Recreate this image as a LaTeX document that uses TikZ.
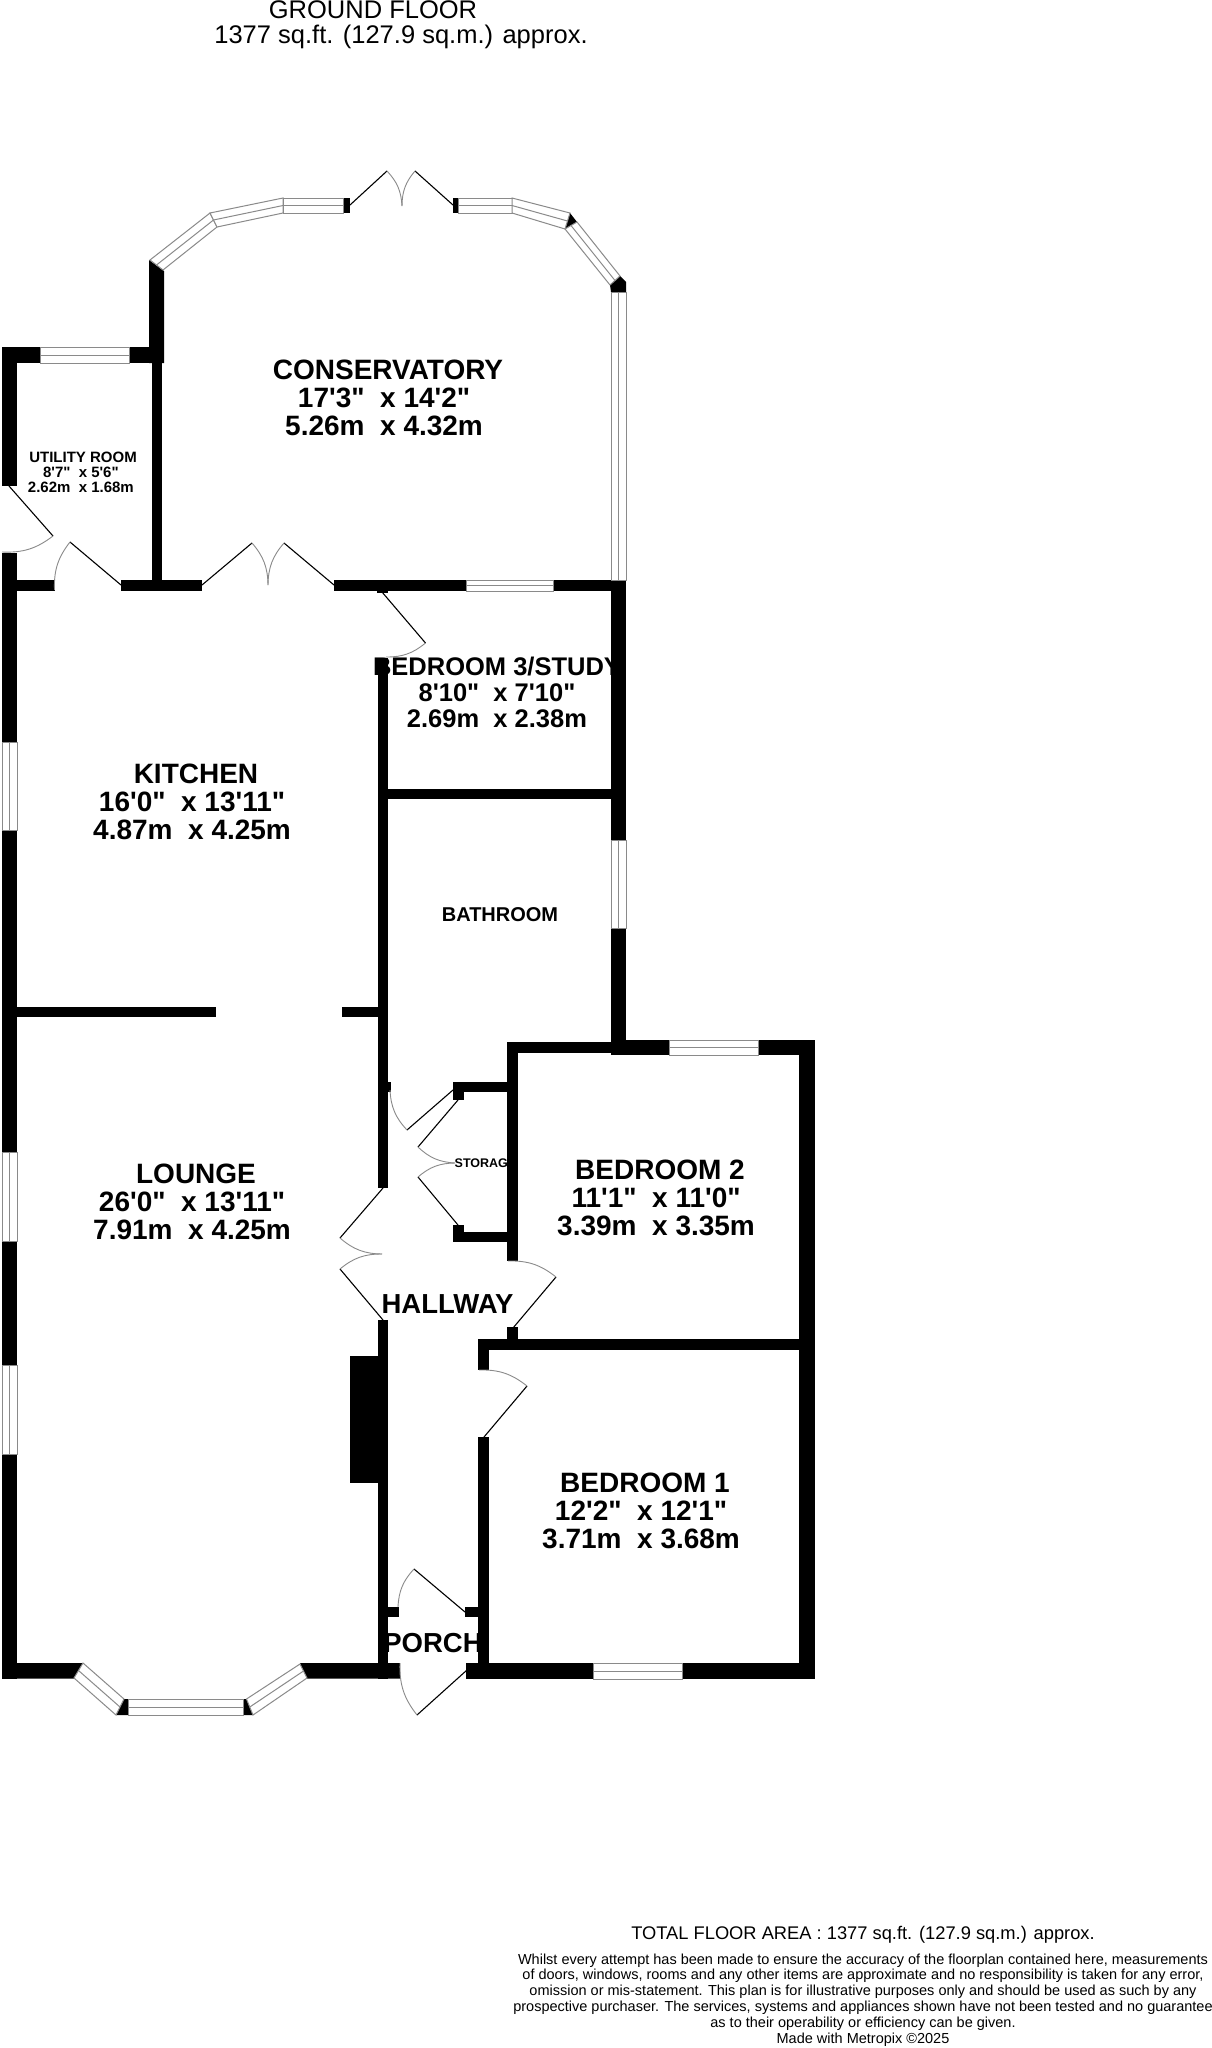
\documentclass[tikz,border=0pt]{standalone}
\usepackage{fontspec}
\usetikzlibrary{calc}
\newfontfamily\planfont{Liberation Sans}
\definecolor{wingray}{HTML}{8A8A8A}
\newcommand{\Tr}{\rule{.28em}{0pt}}
\newcommand{\wallbox}[4]{\fill[wall] (#1,#3) rectangle (#2,#4);}
\newcommand{\winquad}[4]{%
  \draw[winbox] #1 -- #2 -- #3 -- #4 -- cycle;
  \draw[winbox] ($#1!.5!#4$) -- ($#2!.5!#3$);}
\newcommand{\doorleaf}[4]{%
  \draw[leaf] (#1) -- (#2);
  \draw[swing] (#2) to[#4] (#3);}
\tikzset{
  wall/.style={fill=black},
  winbox/.style={draw=wingray,fill=white,line width=1pt},
  leaf/.style={draw=black,line width=1.1pt},
  swing/.style={draw=wingray,line width=0.9pt},
  roomlg/.style={inner sep=0pt,align=center,font=\fontsize{28}{28}\selectfont\planfont\bfseries},
  roommd/.style={inner sep=0pt,align=center,font=\fontsize{25.5}{26}\selectfont\planfont\bfseries},
  roomname/.style={inner sep=0pt,font=\fontsize{27.5}{27}\selectfont\planfont\bfseries},
  roomsm/.style={inner sep=0pt,align=center,font=\fontsize{15}{15}\selectfont\planfont\bfseries},
  headtext/.style={inner sep=0pt,align=center,font=\fontsize{25.5}{26}\selectfont\planfont},
  notetext/.style={inner sep=0pt,align=center,font=\fontsize{14.5}{15.9}\selectfont\planfont},
  areatext/.style={inner sep=0pt,font=\fontsize{18.3}{18}\selectfont\planfont}
}
\begin{document}
\begin{tikzpicture}[x=1pt,y=-1pt]
\fill[white] (0,0) rectangle (1212,2048);
\useasboundingbox (0,0) rectangle (1212,2048);

% texts first: the walls lie over them
\node[headtext,anchor=center] (groundfloor) at (373,10) {GROUND FLOOR};
\node[headtext,anchor=center] (floorarea) at (401,37) {1377 sq.ft. (127.9 sq.m.) approx.};
\node[roomlg] (conservatory) at (388,398) {CONSERVATORY\\17'3"\ \ x 14'2"\Tr\\5.26m\ \ x 4.32m\Tr};
\node[roomsm] (utility) at (83,472) {UTILITY ROOM\\8'7"\ \ x 5'6"\Tr\\2.62m\ \ x 1.68m\Tr};
\node[roommd] (bedthree) at (497,692) {BEDROOM 3/STUDY\\8'10"\ \ x 7'10"\\2.69m\ \ x 2.38m};
\node[roomlg] (kitchen) at (196,802) {KITCHEN\\16'0"\ \ x 13'11"\Tr\\4.87m\ \ x 4.25m\Tr};
\node[inner sep=0pt,font=\fontsize{20}{20}\selectfont\planfont\bfseries] (bathroom) at (500,915) {BATHROOM};
\node[roomlg] (lounge) at (196,1202) {LOUNGE\\26'0"\ \ x 13'11"\Tr\\7.91m\ \ x 4.25m\Tr};
\node[roomlg] (bedtwo) at (660,1197.5) {BEDROOM 2\\11'1"\ \ x 11'0"\Tr\\3.39m\ \ x 3.35m\Tr};
\node[inner sep=0pt,anchor=west,font=\fontsize{12.5}{12.5}\selectfont\planfont\bfseries] (storage) at (454.5,1163) {STORAGE};
\node[roomname] (hallway) at (447.5,1304) {HALLWAY};
\node[roomlg] (bedone) at (645,1510.5) {BEDROOM 1\\12'2"\ \ x 12'1"\Tr\\3.71m\ \ x 3.68m\Tr};
\node[roomname] (porch) at (433,1643) {PORCH};
\node[areatext] (totalarea) at (863,1935) {TOTAL FLOOR AREA : 1377 sq.ft. (127.9 sq.m.) approx.};
\node[notetext] (disclaimer) at (863,2000) {Whilst every attempt has been made to ensure the accuracy of the floorplan contained here, measurements\\of doors, windows, rooms and any other items are approximate and no responsibility is taken for any error,\\omission or mis-statement. This plan is for illustrative purposes only and should be used as such by any\\prospective purchaser. The services, systems and appliances shown have not been tested and no guarantee\\as to their operability or efficiency can be given.\\Made with Metropix \textcopyright 2025};

% walls
\fill[wall] (149,260) -- (164,271) -- (164,363) -- (149,363) -- cycle;
\wallbox{2}{40}{347}{363}
\wallbox{129}{164}{347}{363}
\wallbox{152}{162}{363}{591}
\wallbox{2}{17}{347}{486}
\wallbox{2}{17}{553}{1679}
\wallbox{17}{54.5}{580}{591}
\wallbox{121}{202}{580}{591}
\wallbox{334}{466}{580}{591}
\wallbox{553}{626}{580}{591}
\wallbox{377}{388}{591}{593}
\wallbox{611}{626}{580}{840}
\wallbox{611}{626}{928}{1055}
\wallbox{378}{388}{658}{1188}
\wallbox{378}{388}{1320}{1679}
\wallbox{378}{611}{789}{799}
\wallbox{17}{216}{1007}{1017}
\wallbox{342}{378}{1007}{1017}
\wallbox{378}{390.5}{1082}{1092}
\wallbox{507}{611}{1042}{1053}
\wallbox{626}{669}{1040}{1055}
\wallbox{758}{815}{1040}{1055}
\wallbox{799}{815}{1040}{1679}
\wallbox{507}{518}{1042}{1261}
\wallbox{453}{507}{1082}{1092}
\wallbox{453}{464}{1082}{1100}
\wallbox{453}{507}{1232}{1242}
\wallbox{453}{464}{1225}{1242}
\wallbox{507}{518}{1327}{1340}
\wallbox{478}{799}{1339}{1350}
\wallbox{478}{489}{1339}{1370}
\wallbox{478}{489}{1437}{1679}
\wallbox{350}{378}{1356}{1483}
\wallbox{378}{399}{1607}{1617}
\wallbox{465}{478}{1607}{1617}
\fill[wall] (2,1663) -- (83,1663) -- (74,1678.5) -- (2,1678.5) -- cycle;
\fill[wall] (300,1663) -- (400,1663) -- (400,1678.5) -- (307,1678.5) -- cycle;
\wallbox{466}{593}{1663}{1679}
\wallbox{682}{815}{1663}{1679}
\wallbox{343}{350}{198}{213}
\wallbox{453}{458}{198}{213}
\fill[wall] (570,213) -- (577,222) -- (565,229) -- cycle;
\fill[wall] (620,276) -- (626,282) -- (626,292) -- (611,292) -- (610,285) -- cycle;
\fill[wall] (124,1699) -- (128,1699) -- (128,1715) -- (116,1715) -- cycle;
\fill[wall] (243,1699) -- (246.5,1699) -- (253,1715) -- (243,1715) -- cycle;

% windows
\winquad{(150,260)}{(210,213)}{(217,227)}{(163,270)}
\winquad{(210,213)}{(283,198)}{(283,213)}{(217,227)}
\winquad{(283,198)}{(343,198)}{(343,213)}{(283,213)}
\winquad{(458,198)}{(512,198)}{(512,213)}{(458,213)}
\winquad{(512,198)}{(570,213)}{(565,229)}{(512,213)}
\winquad{(577,222)}{(620,276)}{(610,285)}{(565,229)}
\winquad{(626,292)}{(626,580)}{(611,580)}{(611,292)}
\winquad{(40,347)}{(129,347)}{(129,363)}{(40,363)}
\winquad{(466,580)}{(553,580)}{(553,591)}{(466,591)}
\winquad{(626,840)}{(626,928)}{(611,928)}{(611,840)}
\winquad{(669,1040)}{(758,1040)}{(758,1055)}{(669,1055)}
\winquad{(593,1663)}{(682,1663)}{(682,1679)}{(593,1679)}
\winquad{(17,742)}{(17,830)}{(2,830)}{(2,742)}
\winquad{(17,1152)}{(17,1241)}{(2,1241)}{(2,1152)}
\winquad{(17,1365)}{(17,1454)}{(2,1454)}{(2,1365)}
\winquad{(83,1663)}{(124,1699)}{(116,1715)}{(74,1678)}
\winquad{(128,1699)}{(243,1699)}{(243,1715)}{(128,1715)}
\winquad{(246.5,1699)}{(300,1664)}{(307,1678)}{(253,1715)}

% doors: hinge, end of leaf, end of swing
\doorleaf{350,205}{387,171}{402,206}{bend left=20}
\doorleaf{453,205}{415,171}{402,206}{bend right=20}
\doorleaf{9,486}{53,536}{2,552}{bend left=20}
\doorleaf{121,585}{70,542}{54.5,590}{bend right=20}
\doorleaf{202,585}{252,543}{268,585}{bend left=20}
\doorleaf{334,585}{284,543}{268,585}{bend right=20}
\doorleaf{382,592}{425.5,643}{386,657}{bend left=20}
\doorleaf{453,1090}{407,1130}{390,1090}{bend left=20}
\doorleaf{458,1100}{418,1147}{455,1163}{bend right=20}
\doorleaf{458,1225}{418,1177}{455,1163}{bend left=20}
\doorleaf{383,1188}{340,1238}{382,1254}{bend right=20}
\doorleaf{383,1320}{340,1269}{382,1254}{bend left=20}
\doorleaf{513,1328}{556,1277}{508,1261}{bend right=20}
\doorleaf{484,1437}{527,1386}{479,1370}{bend right=20}
\doorleaf{465,1612}{414,1569}{398,1607}{bend right=20}
\doorleaf{467,1670}{417,1715}{400,1663}{bend left=20}
\end{tikzpicture}
\end{document}
